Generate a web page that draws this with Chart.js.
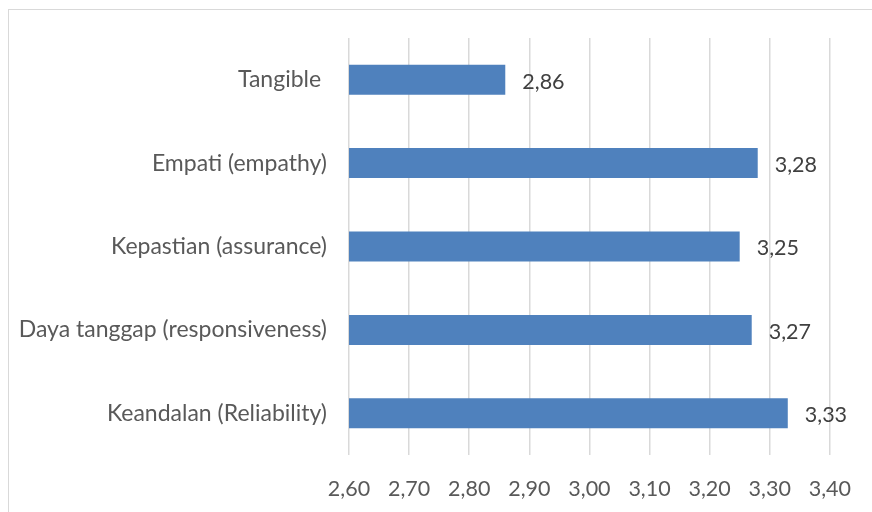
<!DOCTYPE html>
<html>
<head>
<meta charset="utf-8">
<script src="https://cdn.jsdelivr.net/npm/chart.js@4"></script>
<style>
  html, body { margin: 0; padding: 0; background: #fff; overflow: hidden; }
  #wrap { position: relative; width: 872px; height: 512px; }
  #frame { position: absolute; left: 8px; top: 9px; width: 900px; height: 600px; border: 1px solid #d9d9d9; }
  canvas { position: absolute; left: 0; top: 0; }
</style>
</head>
<body>
<div id="wrap">
  <div id="frame"></div>
  <canvas id="serviceChart" width="872" height="512"></canvas>
</div>
<script>
  // Dimensi kualitas layanan, urut dari atas ke bawah
  const categories = [
    'Tangible ',
    'Empati (empathy)',
    'Kepastian (assurance)',
    'Daya tanggap (responsiveness)',
    'Keandalan (Reliability)'
  ];
  const scores = [2.86, 3.28, 3.25, 3.27, 3.33];
  const axisMin = 2.6;
  const axisMax = 3.4;
  const axisStep = 0.1;

  const fmt = v => Number(v).toFixed(2).replace('.', ',');
  const FONT = 'Lato, "Open Sans", sans-serif';

  // value labels to the right of each bar
  const valueLabels = {
    id: 'valueLabels',
    afterDatasetsDraw(chart) {
      const ctx = chart.ctx;
      const meta = chart.getDatasetMeta(0);
      ctx.save();
      ctx.font = '21.5px ' + FONT;
      ctx.fillStyle = '#404040';
      ctx.textAlign = 'left';
      ctx.textBaseline = 'middle';
      meta.data.forEach((bar, i) => {
        ctx.fillText(fmt(chart.data.datasets[0].data[i]), bar.x + 17, bar.y + 2);
      });
      ctx.restore();
    }
  };

  new Chart(document.getElementById('serviceChart'), {
    type: 'bar',
    data: {
      labels: categories,
      datasets: [{
        data: scores,
        backgroundColor: '#4F81BD',
        borderWidth: 0,
        barPercentage: 0.36,
        categoryPercentage: 1
      }]
    },
    options: {
      indexAxis: 'y',
      responsive: false,
      animation: false,
      layout: { padding: { top: 38, right: 36, left: 0, bottom: 0 } },
      plugins: { legend: { display: false }, tooltip: { enabled: false } },
      scales: {
        x: {
          min: axisMin,
          max: axisMax,
          afterFit: s => { s.height = 57; },
          ticks: {
            stepSize: axisStep,
            padding: 21,
            color: '#595959',
            font: { family: FONT, size: 21.5 },
            callback: v => fmt(v)
          },
          grid: { color: '#d9d9d9', lineWidth: 1.5, drawTicks: false },
          border: { display: false }
        },
        y: {
          afterFit: s => { s.width = 349; },
          ticks: {
            padding: 22,
            color: '#595959',
            font: { family: FONT, size: 23 }
          },
          grid: { display: false, drawTicks: false },
          border: { display: false }
        }
      }
    },
    plugins: [valueLabels]
  });
</script>
</body>
</html>
